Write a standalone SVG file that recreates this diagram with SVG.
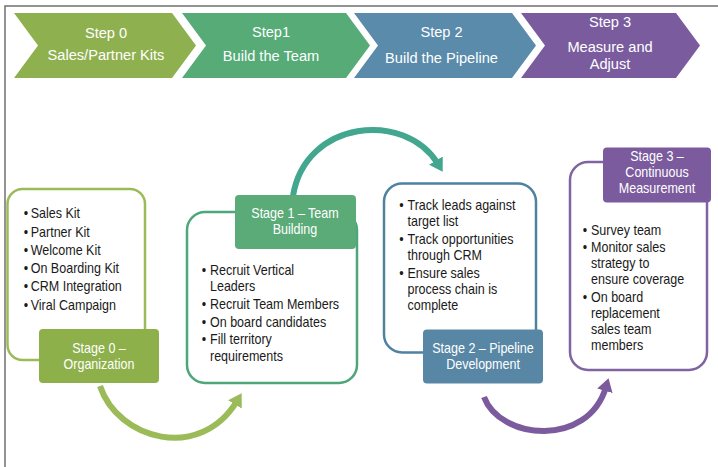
<svg xmlns="http://www.w3.org/2000/svg" width="718" height="467" viewBox="0 0 718 467">
<style>
text{font-family:"Liberation Sans",Arial,sans-serif}
.ct{fill:#fff;font-size:15.5px;text-anchor:middle}
.body{font-size:14px;fill:#1a1a1a}
.lbl{font-size:14px;fill:#fff;text-anchor:middle}
.box{fill:#fff;stroke-width:2.5}
.conn{fill:none;stroke-width:6}
.frame{fill:none;stroke:#707070;stroke-width:1.5}
</style>
<defs>
<marker id="ag" viewBox="0 0 13 16" refX="4" refY="8" markerWidth="13" markerHeight="16" markerUnits="userSpaceOnUse" orient="auto"><path d="M0,0 L13,8 L0,16 z" fill="#9bbb59"/></marker>
<marker id="at" viewBox="0 0 13 16" refX="4" refY="8" markerWidth="13" markerHeight="16" markerUnits="userSpaceOnUse" orient="auto"><path d="M0,0 L13,8 L0,16 z" fill="#43a68e"/></marker>
<marker id="ap" viewBox="0 0 13 16" refX="4" refY="8" markerWidth="13" markerHeight="16" markerUnits="userSpaceOnUse" orient="auto"><path d="M0,0 L13,8 L0,16 z" fill="#7b5b9e"/></marker>
</defs>
<rect width="718" height="467" fill="#fff"/>
<path class="frame" d="M5,467 V6 H718"/>

<g id="step0">
<polygon points="14,13 172,13 196,45.5 172,78 14,78 38,45.5" fill="#8fb04f"/>
<g transform="translate(106,0) scale(.943,1)"><text class="ct" x="0" y="38">Step 0</text><text class="ct" x="0" y="60">Sales/Partner Kits</text></g>
</g>
<g id="step1">
<polygon points="182,13 346,13 370,45.5 346,78 182,78 206,45.5" fill="#56ab77"/>
<g transform="translate(271,0) scale(.943,1)"><text class="ct" x="0" y="37">Step1</text><text class="ct" x="0" y="61">Build the Team</text></g>
</g>
<g id="step2">
<polygon points="354,13 512,13 536,45.5 512,78 354,78 378,45.5" fill="#5b8bab"/>
<g transform="translate(441.5,0) scale(.943,1)"><text class="ct" x="0" y="37.5">Step 2</text><text class="ct" x="0" y="63">Build the Pipeline</text></g>
</g>
<g id="step3">
<polygon points="521,13 676,13 700,45.5 676,78 521,78 545,45.5" fill="#7a5c9e"/>
<g transform="translate(610,0) scale(.943,1)"><text class="ct" x="0" y="27">Step 3</text><text class="ct" x="0" y="52">Measure and</text><text class="ct" x="0" y="69.5">Adjust</text></g>
</g>

<g id="connectors">
<path class="conn" stroke="#9bbb59" d="M100,386 C118,440 200,462 237,401" marker-end="url(#ag)"/>
<path class="conn" stroke="#43a68e" d="M293,196 C305,120 405,110 438,164" marker-end="url(#at)"/>
<path class="conn" stroke="#7b5b9e" d="M484,397 C500,440 588,448 606,387" marker-end="url(#ap)"/>
</g>

<g id="stage0">
<rect class="box" x="7.5" y="189" width="137.5" height="171" rx="15" stroke="#9bbb59"/>
<g transform="translate(30.7,0) scale(.895,1)" class="body">
<text x="-7.9" y="218.3">•</text><text x="0" y="218.3">Sales Kit</text>
<text x="-7.9" y="236.6">•</text><text x="0" y="236.6">Partner Kit</text>
<text x="-7.9" y="254.9">•</text><text x="0" y="254.9">Welcome Kit</text>
<text x="-7.9" y="273.2">•</text><text x="0" y="273.2">On Boarding Kit</text>
<text x="-7.9" y="291.5">•</text><text x="0" y="291.5">CRM Integration</text>
<text x="-7.9" y="309.8">•</text><text x="0" y="309.8">Viral Campaign</text>
</g>
<rect x="39" y="329" width="120" height="54" rx="4" fill="#8db04b"/>
<g transform="translate(99,0) scale(.895,1)"><text class="lbl" x="0" y="353.5">Stage 0 –</text><text class="lbl" x="0" y="369.5">Organization</text></g>
</g>

<g id="stage1">
<rect class="box" x="187" y="212" width="170" height="171" rx="18" stroke="#4ea77a"/>
<rect x="235" y="195" width="121" height="54" rx="4" fill="#5aab78"/>
<g transform="translate(295,0) scale(.895,1)"><text class="lbl" x="0" y="218">Stage 1 – Team</text><text class="lbl" x="0" y="234">Building</text></g>
<g transform="translate(210,0) scale(.895,1)" class="body">
<text x="-9.3" y="275">•</text><text x="0" y="275">Recruit Vertical</text>
<text x="0" y="291.2">Leaders</text>
<text x="-9.3" y="309">•</text><text x="0" y="309">Recruit Team Members</text>
<text x="-9.3" y="326.7">•</text><text x="0" y="326.7">On board candidates</text>
<text x="-9.3" y="344.5">•</text><text x="0" y="344.5">Fill territory</text>
<text x="0" y="360.7">requirements</text>
</g>
</g>

<g id="stage2">
<rect class="box" x="384" y="183.5" width="152" height="169" rx="18" stroke="#4f81a0"/>
<g transform="translate(407.5,0) scale(.895,1)" class="body">
<text x="-9.3" y="210">•</text><text x="0" y="210">Track leads against</text>
<text x="0" y="226">target list</text>
<text x="-9.3" y="244">•</text><text x="0" y="244">Track opportunities</text>
<text x="0" y="260">through CRM</text>
<text x="-9.3" y="278">•</text><text x="0" y="278">Ensure sales</text>
<text x="0" y="294">process chain is</text>
<text x="0" y="310">complete</text>
</g>
<rect x="423" y="329.5" width="120" height="54" rx="4" fill="#5887a6"/>
<g transform="translate(483,0) scale(.895,1)"><text class="lbl" x="0" y="353">Stage 2 – Pipeline</text><text class="lbl" x="0" y="369">Development</text></g>
</g>

<g id="stage3">
<rect class="box" x="570" y="162" width="137" height="208" rx="18" stroke="#8064a2"/>
<rect x="603" y="147.5" width="108" height="55" rx="4" fill="#7b5b9d"/>
<g transform="translate(657,0) scale(.895,1)"><text class="lbl" x="0" y="161.5">Stage 3 –</text><text class="lbl" x="0" y="177.5">Continuous</text><text class="lbl" x="0" y="193.5">Measurement</text></g>
<g transform="translate(591,0) scale(.895,1)" class="body">
<text x="-9.3" y="235">•</text><text x="0" y="235">Survey team</text>
<text x="-9.3" y="252">•</text><text x="0" y="252">Monitor sales</text>
<text x="0" y="268">strategy to</text>
<text x="0" y="284">ensure coverage</text>
<text x="-9.3" y="302">•</text><text x="0" y="302">On board</text>
<text x="0" y="318">replacement</text>
<text x="0" y="334">sales team</text>
<text x="0" y="350">members</text>
</g>
</g>
</svg>
